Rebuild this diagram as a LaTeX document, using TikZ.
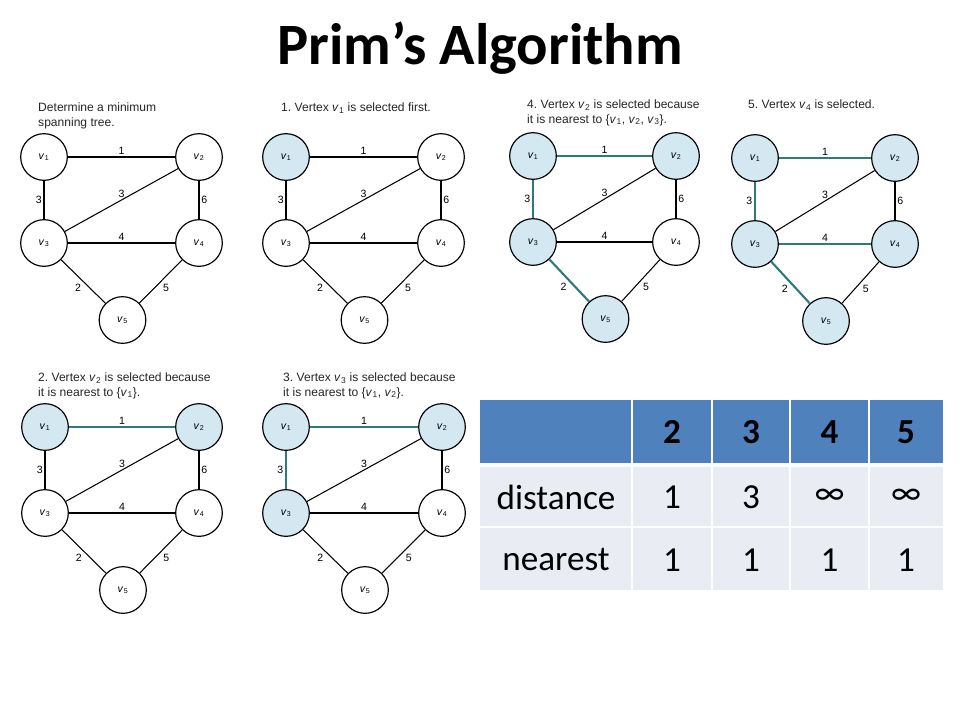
\documentclass[tikz,border=0pt]{standalone}
\usepackage{fontspec}
\setmainfont{Carlito}
\newfontfamily\capfont{Liberation Sans}
\usetikzlibrary{positioning}
\frenchspacing
\definecolor{selblue}{HTML}{D3E8F0}
\definecolor{treeteal}{HTML}{2E7B78}
\definecolor{headblue}{HTML}{4F81BD}
\definecolor{cellgray}{HTML}{E9ECF3}
\newcommand{\vx}[1]{\textit{v}\kern0.2pt\textsubscript{#1}}

\tikzset{
  vert/.style={circle,draw,line width=1pt,fill=white,minimum size=1.4cm,inner sep=0pt,
    font=\capfont\fontsize{9}{9}\selectfont},
  vsel/.style={fill=selblue},
  edge/.style={draw=black,line width=0.9pt},
  tree/.style={draw=treeteal,line width=1.8pt},
  wt/.style={font=\capfont\fontsize{9}{10}\selectfont,inner sep=1.5pt},
  caption/.style={anchor=north west,align=left,inner sep=0pt,text=black!85,
    font=\capfont\fontsize{10.3}{12}\selectfont},
  headtxt/.style={font=\fontsize{30}{32}\selectfont\bfseries},
  celltxt/.style={font=\fontsize{30}{32}\selectfont},
  grid/.style={draw=white,line width=2pt},
  s1/.style={},s2/.style={},s3/.style={},s4/.style={},s5/.style={},
  t12/.style={},t13/.style={},t23/.style={},t24/.style={},
  t34/.style={},t35/.style={},t45/.style={},
}

% #1 name, #2/#3 centre of v1, #4 distance v1--v2
\newcommand{\panel}[4]{%
  \coordinate (#1c1) at (#2,#3);
  \coordinate (#1c2) at ({#2+#4},#3);
  \coordinate (#1c3) at (#2,{#3+86});
  \coordinate (#1c4) at ({#2+#4},{#3+86});
  \coordinate (#1c5) at ({#2+#4/2+1},{#3+163});
  \foreach \i in {1,...,5}
    \node[vert,s\i] (#1v\i) at (#1c\i) {\vx{\i}};
  \foreach \a/\b/\w/\pos in {1/2/1/above,1/3/3/left,2/3/3/above,2/4/6/right,
      3/4/4/above,3/5/2/below left,4/5/5/below right}
    \draw[edge,t\a\b] (#1v\a) -- node[wt,\pos] {\w} (#1v\b);
}

\begin{document}
\begin{tikzpicture}[x=0.03cm,y=-0.03cm]
  \useasboundingbox[fill=white] (0,0) rectangle (960,720);
  \node[font=\fontsize{50}{58}\selectfont\bfseries] (title) at (480,48) {Prim’s Algorithm};

  % the six steps
  \panel{a}{44}{157}{155}
  \node[caption] (capa) at (38,103) {Determine a minimum\\spanning tree.};

  \begin{scope}[s1/.style=vsel]
    \panel{b}{286}{157}{155}
  \end{scope}
  \node[caption] (capb) at (281,103) {1. Vertex \vx{1} is selected first.};

  \begin{scope}[s1/.style=vsel,s2/.style=vsel,s3/.style=vsel,s5/.style=vsel,
      t12/.style=tree,t13/.style=tree,t35/.style=tree]
    \panel{c}{533}{156}{143}
  \end{scope}
  \node[caption] (capc) at (527,100) {4. Vertex \vx{2} is selected because\\it is nearest to \{\vx{1}, \vx{2}, \vx{3}\}.};

  \begin{scope}[s1/.style=vsel,s2/.style=vsel,s3/.style=vsel,s4/.style=vsel,s5/.style=vsel,
      t12/.style=tree,t13/.style=tree,t34/.style=tree,t35/.style=tree]
    \panel{d}{755}{158}{140}
  \end{scope}
  \node[caption] (capd) at (748,100) {5. Vertex \vx{4} is selected.};

  \begin{scope}[s1/.style=vsel,s2/.style=vsel,t12/.style=tree]
    \panel{e}{45}{427}{154}
  \end{scope}
  \node[caption] (cape) at (38,373) {2. Vertex \vx{2} is selected because\\it is nearest to \{\vx{1}\}.};

  \begin{scope}[s1/.style=vsel,s2/.style=vsel,s3/.style=vsel,t12/.style=tree,t13/.style=tree]
    \panel{f}{286}{427}{156}
  \end{scope}
  \node[caption] (capf) at (283,373) {3. Vertex \vx{3} is selected because\\it is nearest to \{\vx{1}, \vx{2}\}.};

  % table
  \foreach \xa/\xb/\hd/\dd/\nn [count=\c] in {480/632/{}/distance/nearest,
      632/712/2/1/1,712/790/3/3/1,790/869/4/∞/1,869/943/5/∞/1} {
    \fill[headblue] (\xa,400) rectangle (\xb,464);
    \fill[cellgray] (\xa,464) rectangle (\xb,590);
    \node[headtxt] (h\c) at ({(\xa+\xb)/2},432) {\hd};
    \node[celltxt] (d\c) at ({(\xa+\xb)/2},497) {\dd};
    \node[celltxt] (n\c) at ({(\xa+\xb)/2},560) {\nn};
  }
  \foreach \x in {632,712,790,869}
    \draw[grid] (\x,400) -- (\x,590);
  \draw[grid,line width=3pt] (480,465) -- (943,465);
  \draw[grid] (480,527) -- (943,527);
\end{tikzpicture}
\end{document}
